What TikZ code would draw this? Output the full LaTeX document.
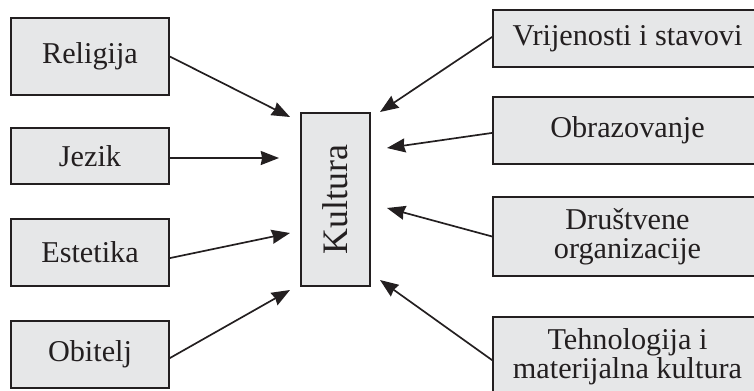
\documentclass[tikz,border=0pt]{standalone}
\usepackage{fontspec}
\setmainfont{Liberation Serif}
\usetikzlibrary{arrows.meta}
\definecolor{boxgray}{HTML}{E6E7E8}
\definecolor{ink}{HTML}{231F20}
\tikzset{
  box/.style={rectangle,draw=ink,fill=boxgray,line width=1.1pt,inner sep=0pt,
    text=ink,align=center,font=\fontsize{21.5}{20.6}\selectfont},
  arr/.style={-{Stealth[length=13pt,width=10pt,inset=1pt]},draw=ink,line width=1.2pt}
}
\begin{document}
\begin{tikzpicture}[x=0.025cm,y=-0.025cm]
      \useasboundingbox (0,0) rectangle (754,390);
      \clip (0,0) rectangle (754,390);
      \node[box,minimum width=3.95cm,minimum height=1.925cm] (rel) at
      (90,56.5) {Religija};
      \node[box,minimum width=3.95cm,minimum height=1.4cm] (jez) at
      (90,156) {Jezik};
      \node[box,minimum width=3.95cm,minimum height=1.675cm] (est) at
      (90,252.5) {Estetika};
      \node[box,minimum width=3.95cm,minimum height=1.675cm] (obi) at
      (90,354.5) {Obitelj};
      \node[box,minimum width=1.725cm,minimum height=4.325cm] (kult) at
      (335.5,199.5) {\rotatebox{90}{\fontsize{25.5}{30}\selectfont Kultura}};
      \node[box,minimum width=6.725cm,minimum height=1.425cm] (vri) at
      (627.5,38.5) {Vrijenosti i stavovi};
      \node[box,minimum width=6.725cm,minimum height=1.675cm] (obr) at
      (627.5,130.5) {Obrazovanje};
      \node[box,minimum width=6.725cm,minimum height=1.975cm] (dru) at
      (627.5,236.5) {Društvene\\organizacije};
      \node[box,minimum width=6.725cm,minimum height=2cm] (teh) at
      (627.5,357) {Tehnologija i\\materijalna kultura};
      \coordinate (rel-in) at (290,117);
      \coordinate (jez-in) at (279,158);
      \coordinate (est-in) at (290,233);
      \coordinate (obi-in) at (290,290);
      \coordinate (vri-in) at (380,112);
      \coordinate (obr-in) at (387,148);
      \coordinate (dru-in) at (387,208);
      \coordinate (teh-in) at (380,280);
      \draw[arr] (rel.east) to (rel-in);
      \draw[arr] ([yshift=-0.05cm]jez.east) to (jez-in);
      \draw[arr] ([yshift=-0.14cm]est.east) to (est-in);
      \draw[arr] ([yshift=-0.09cm]obi.east) to (obi-in);
      \draw[arr] ([yshift=0.04cm]vri.west) to (vri-in);
      \draw[arr] ([yshift=-0.06cm]obr.west) to (obr-in);
      \draw[arr] (dru.west) to (dru-in);
      \draw[arr] ([yshift=-0.08cm]teh.west) to (teh-in);
    \end{tikzpicture}
\end{document}
